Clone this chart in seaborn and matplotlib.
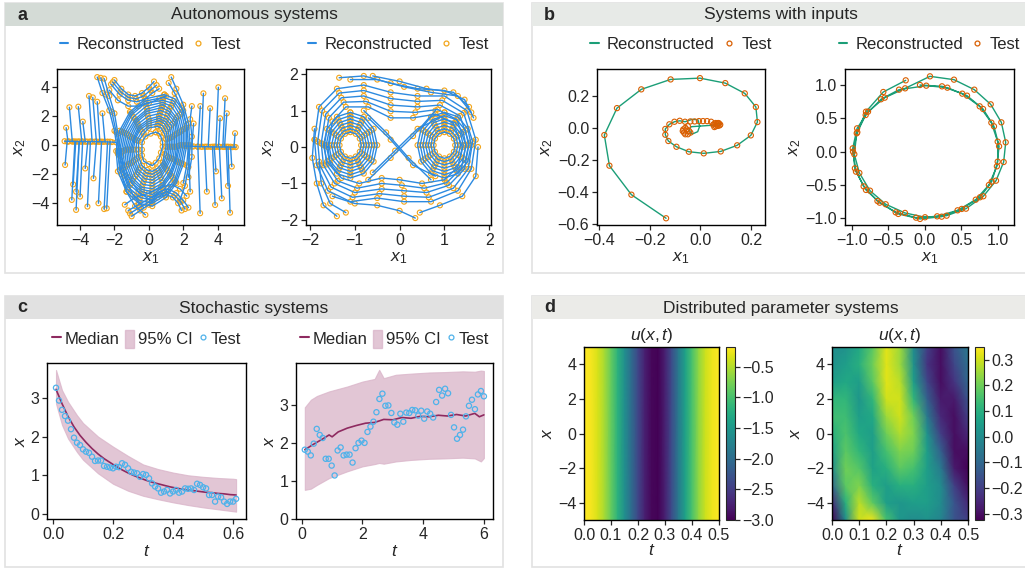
import numpy as np
import pandas as pd
import matplotlib
matplotlib.use("Agg")
import matplotlib.pyplot as plt
from matplotlib.lines import Line2D
from matplotlib.patches import Rectangle, Patch
import seaborn as sns

sns.set_style("ticks")
plt.rcParams["font.family"] = ["Liberation Sans", "DejaVu Sans"]
plt.rcParams["mathtext.fontset"] = "custom"
plt.rcParams["mathtext.it"] = "Liberation Sans:italic"
plt.rcParams["mathtext.rm"] = "Liberation Sans"
plt.rcParams["xtick.labelsize"] = 11.5
plt.rcParams["ytick.labelsize"] = 11.5
plt.rcParams["axes.labelsize"] = 12.5
plt.rcParams["axes.linewidth"] = 1.0

# ---------------- panel a (left): fast-slow system ----------------
# closed orbits around the centre, outermost first
a1_loops = [
    [(0.9, 3.5), (1.5, 3.2), (2.0, 2.4), (2.2, 1.2), (2.2, 0.0), (2.0, -1.3), (1.6, -2.6), (1.0, -3.6), (0.2, -4.2), (-0.6, -4.0), (-1.3, -3.2), (-1.8, -1.8), (-1.9, -0.4), (-1.7, 1.0), (-1.1, 2.3), (-0.2, 3.2)],
    [(0.85, 3.3), (1.45, 3.05), (1.9, 2.25), (2.1, 1.15), (2.1, 0.0), (1.9, -1.25), (1.55, -2.5), (0.95, -3.45), (0.2, -4.0), (-0.55, -3.8), (-1.25, -3.05), (-1.7, -1.7), (-1.8, -0.4), (-1.6, 0.95), (-1.05, 2.2), (-0.2, 3.05)],
    [(0.8, 3.1), (1.4, 2.9), (1.8, 2.1), (2.0, 1.1), (2.0, 0.0), (1.8, -1.2), (1.5, -2.4), (0.9, -3.3), (0.2, -3.8), (-0.5, -3.6), (-1.2, -2.9), (-1.6, -1.6), (-1.7, -0.4), (-1.5, 0.9), (-1.0, 2.1), (-0.2, 2.9)],
    [(0.8, 2.95), (1.3, 2.7), (1.7, 2.0), (1.9, 1.0), (1.9, 0.0), (1.7, -1.15), (1.4, -2.25), (0.85, -3.1), (0.2, -3.6), (-0.45, -3.4), (-1.1, -2.75), (-1.5, -1.55), (-1.6, -0.4), (-1.4, 0.85), (-0.9, 1.95), (-0.15, 2.7)],
    [(0.8, 2.8), (1.2, 2.5), (1.6, 1.9), (1.8, 0.9), (1.8, 0.0), (1.6, -1.1), (1.3, -2.1), (0.8, -2.9), (0.2, -3.4), (-0.4, -3.2), (-1.0, -2.6), (-1.4, -1.5), (-1.5, -0.4), (-1.3, 0.8), (-0.8, 1.8), (-0.1, 2.5)],
    [(0.75, 2.6), (1.15, 2.35), (1.55, 1.75), (1.7, 0.85), (1.7, -0.05), (1.55, -1.05), (1.25, -2.0), (0.8, -2.75), (0.2, -3.2), (-0.4, -3.05), (-0.95, -2.45), (-1.3, -1.4), (-1.4, -0.35), (-1.2, 0.7), (-0.75, 1.7), (-0.1, 2.35)],
    [(0.7, 2.4), (1.1, 2.2), (1.5, 1.6), (1.6, 0.8), (1.6, -0.1), (1.5, -1.0), (1.2, -1.9), (0.8, -2.6), (0.2, -3.0), (-0.4, -2.9), (-0.9, -2.3), (-1.2, -1.3), (-1.3, -0.3), (-1.1, 0.6), (-0.7, 1.6), (-0.1, 2.2)],
    [(0.65, 2.2), (1.05, 2.0), (1.4, 1.5), (1.5, 0.7), (1.5, -0.1), (1.4, -0.95), (1.1, -1.75), (0.75, -2.4), (0.2, -2.8), (-0.35, -2.7), (-0.8, -2.15), (-1.1, -1.25), (-1.2, -0.3), (-1.0, 0.55), (-0.65, 1.45), (-0.05, 2.0)],
    [(0.6, 2.0), (1.0, 1.8), (1.3, 1.4), (1.4, 0.6), (1.4, -0.1), (1.3, -0.9), (1.0, -1.6), (0.7, -2.2), (0.2, -2.6), (-0.3, -2.5), (-0.7, -2.0), (-1.0, -1.2), (-1.1, -0.3), (-0.9, 0.5), (-0.6, 1.3), (0.0, 1.8)],
    [(0.6, 1.85), (0.95, 1.65), (1.2, 1.25), (1.3, 0.55), (1.3, -0.1), (1.2, -0.85), (0.95, -1.5), (0.65, -2.05), (0.2, -2.4), (-0.25, -2.3), (-0.65, -1.85), (-0.9, -1.1), (-1.0, -0.3), (-0.85, 0.45), (-0.55, 1.2), (0.0, 1.65)],
    [(0.6, 1.7), (0.9, 1.5), (1.1, 1.1), (1.2, 0.5), (1.2, -0.1), (1.1, -0.8), (0.9, -1.4), (0.6, -1.9), (0.2, -2.2), (-0.2, -2.1), (-0.6, -1.7), (-0.8, -1.0), (-0.9, -0.3), (-0.8, 0.4), (-0.5, 1.1), (0.0, 1.5)],
    [(0.55, 1.5), (0.8, 1.35), (1.0, 0.95), (1.1, 0.45), (1.1, -0.1), (1.0, -0.7), (0.85, -1.3), (0.55, -1.75), (0.2, -2.0), (-0.15, -1.9), (-0.5, -1.55), (-0.7, -0.9), (-0.75, -0.3), (-0.7, 0.35), (-0.4, 0.95), (0.0, 1.35)],
    [(0.5, 1.3), (0.7, 1.2), (0.9, 0.8), (1.0, 0.4), (1.0, -0.1), (0.9, -0.6), (0.8, -1.2), (0.5, -1.6), (0.2, -1.8), (-0.1, -1.7), (-0.4, -1.4), (-0.6, -0.8), (-0.6, -0.3), (-0.6, 0.3), (-0.3, 0.8), (0.0, 1.2)],
    [(0.4, 0.9), (0.6, 0.8), (0.7, 0.6), (0.8, 0.2), (0.8, -0.1), (0.7, -0.5), (0.6, -0.9), (0.4, -1.2), (0.2, -1.4), (0.0, -1.3), (-0.3, -1.1), (-0.4, -0.7), (-0.4, -0.3), (-0.4, 0.2), (-0.2, 0.6), (0.1, 0.8)],
]
# open trajectories: U-shaped top bands, bottom humps and the long S-shaped arms
a1_bands = [
    [(-2.0, 4.5), (-1.6, 3.9), (-1.2, 3.5), (-0.8, 3.4), (-0.4, 3.6), (0.0, 4.0), (0.3, 4.4)],
    [(-2.1, 4.35), (-1.65, 3.7), (-1.2, 3.3), (-0.75, 3.2), (-0.3, 3.4), (0.1, 3.8), (0.45, 4.15)],
    [(-2.2, 4.2), (-1.7, 3.5), (-1.2, 3.1), (-0.7, 3.0), (-0.2, 3.2), (0.2, 3.6), (0.6, 3.9)],
    [(-2.3, 3.8), (-1.8, 3.1), (-1.2, 2.7), (-0.6, 2.7), (0.0, 2.9), (0.6, 3.2), (1.0, 3.4)],
    [(-1.0, -4.9), (-0.5, -4.5), (0.0, -4.1), (0.5, -3.6), (1.0, -3.4), (1.4, -3.6), (1.7, -4.0), (1.9, -4.5)],
    [(-1.1, -4.7), (-0.55, -4.3), (0.0, -3.9), (0.55, -3.4), (1.05, -3.2), (1.5, -3.45), (1.85, -3.9), (2.1, -4.4)],
    [(-1.2, -4.5), (-0.6, -4.1), (0.0, -3.7), (0.6, -3.2), (1.1, -3.0), (1.6, -3.3), (2.0, -3.8), (2.3, -4.3)],
    [(-1.4, -4.1), (-0.8, -3.6), (0.0, -3.3), (0.7, -2.9), (1.3, -2.7), (1.8, -3.0), (2.2, -3.5)],
    [(-3.0, 4.7), (-2.7, 3.6), (-2.3, 2.4), (-2.0, 1.0), (-1.8, -0.6), (-1.6, -2.0), (-1.3, -3.2), (-0.8, -4.2), (-0.2, -4.8)],
    [(-2.8, 4.65), (-2.5, 3.5), (-2.15, 2.3), (-1.9, 0.9), (-1.7, -0.7), (-1.4, -2.1), (-0.95, -3.4), (-0.3, -4.3)],
    [(-2.6, 4.6), (-2.3, 3.4), (-2.0, 2.2), (-1.8, 0.8), (-1.6, -0.8), (-1.2, -2.2), (-0.6, -3.2), (0.2, -3.9)],
    [(1.3, 4.7), (1.6, 3.9), (2.0, 2.8), (2.3, 1.5), (2.4, 0.0), (2.3, -1.5), (2.1, -2.8), (1.8, -3.8)],
    [(1.15, 4.3), (1.5, 3.6), (1.9, 2.6), (2.2, 1.4), (2.3, 0.0), (2.2, -1.4), (2.0, -2.6)],
    [(2.5, 2.7), (2.4, 1.8), (2.5, 0.6), (2.5, -0.8), (2.3, -2.2)],
]
a1_drop_x0 = [-4.62, -4.10, -3.48, -3.26, -3.84, -4.81, -4.23, -4.48, -4.23, -3.57, -2.93, -2.45, -4.00, -4.87, -3.22, -2.60, -3.00, -2.70, -4.40, -3.70,
              3.17, 4.04, 4.43, 4.14, 5.01, 2.98, 3.85, 4.72, 3.37, 4.24, 4.82, 2.40, 2.99, 3.56, 4.53, 2.60, 3.90, 4.60]
a1_drop_y0 = [2.62, 2.66, 3.40, 3.30, 1.63, 1.21, -3.20, -3.77, -4.46, -4.23, -4.00, -4.35, -3.54, -1.36, -2.28, -4.40, 3.00, 2.20, -2.70, -1.60,
              3.58, 4.00, 3.24, 1.86, 0.83, -4.69, -4.12, -4.65, -3.20, -3.66, -1.47, -3.20, 2.70, 2.55, 2.20, 1.50, -1.80, -2.80]
a1_drop_x1 = [-4.45, -3.90, -3.30, -3.05, -3.70, -4.70, -4.05, -4.30, -4.05, -3.40, -2.75, -2.25, -3.85, -4.75, -3.05, -2.40, -2.85, -2.55, -4.25, -3.55,
              3.05, 3.90, 4.30, 4.05, 4.95, 2.85, 3.70, 4.60, 3.25, 4.10, 4.75, 2.30, 2.85, 3.45, 4.40, 2.50, 3.80, 4.50]
a1_drop_y1 = [0.25] * 20 + [-0.1] * 18
a1_slow_x = [-4.9, -4.65, -4.4, -4.15, -3.9, -3.65, -3.4, -3.15, -2.9, -2.65, -2.4, -2.15, -1.9]
a1_slow_y = [0.28, 0.27, 0.27, 0.26, 0.26, 0.25, 0.25, 0.25, 0.24, 0.24, 0.23, 0.22, 0.2]
a1_slow2_x = [2.1, 2.35, 2.6, 2.85, 3.1, 3.35, 3.6, 3.85, 4.1, 4.35, 4.6, 4.85, 5.05]
a1_slow2_y = [-0.05, -0.07, -0.08, -0.09, -0.1, -0.1, -0.11, -0.11, -0.12, -0.12, -0.12, -0.13, -0.13]

# ---------------- panel a (right): double-well oscillator ----------------
a2_outer = [
    [(-1.9, 0.2), (-1.8, 1.1), (-1.4, 1.6), (-0.8, 1.7), (-0.2, 1.5), (0.4, 1.4), (1.0, 1.4), (1.5, 1.0), (1.7, 0.2), (1.6, -0.6), (1.3, -1.2),
     (0.7, -1.5), (0.1, -1.5), (-0.5, -1.4), (-1.1, -1.5), (-1.6, -1.2), (-1.85, -0.5)],
    [(-1.83, 0.15), (-1.73, 1.0), (-1.35, 1.48), (-0.8, 1.55), (-0.2, 1.33), (0.4, 1.25), (0.95, 1.28), (1.43, 0.93), (1.63, 0.15), (1.53, -0.6),
     (1.2, -1.13), (0.65, -1.38), (0.1, -1.35), (-0.45, -1.28), (-1.05, -1.38), (-1.53, -1.1), (-1.78, -0.5)],
    [(-1.75, 0.1), (-1.65, 0.9), (-1.3, 1.35), (-0.8, 1.4), (-0.2, 1.15), (0.4, 1.1), (0.9, 1.15), (1.35, 0.85), (1.55, 0.1), (1.45, -0.6),
     (1.1, -1.05), (0.6, -1.25), (0.1, -1.2), (-0.4, -1.15), (-1.0, -1.25), (-1.45, -1.0), (-1.7, -0.5)],
    [(-1.68, 0.05), (-1.58, 0.8), (-1.25, 1.23), (-0.75, 1.25), (-0.2, 0.98), (0.35, 0.95), (0.85, 1.03), (1.28, 0.75), (1.48, 0.05), (1.38, -0.58),
     (1.05, -0.98), (0.55, -1.13), (0.05, -1.05), (-0.4, -1.0), (-0.95, -1.13), (-1.38, -0.93), (-1.63, -0.48)],
    [(-1.6, 0.0), (-1.5, 0.7), (-1.2, 1.1), (-0.7, 1.1), (-0.2, 0.8), (0.3, 0.8), (0.8, 0.9), (1.2, 0.65), (1.4, 0.0), (1.3, -0.55),
     (1.0, -0.9), (0.5, -1.0), (0.0, -0.9), (-0.4, -0.85), (-0.9, -1.0), (-1.3, -0.85), (-1.55, -0.45)],
]
a2_wells = [
    [(-1.1, 0.95), (-0.8, 0.83), (-0.58, 0.5), (-0.5, 0.05), (-0.58, -0.4), (-0.8, -0.73), (-1.1, -0.85), (-1.4, -0.73), (-1.62, -0.4), (-1.7, 0.05), (-1.62, 0.5), (-1.4, 0.83)],
    [(-1.1, 0.86), (-0.83, 0.75), (-0.63, 0.46), (-0.56, 0.05), (-0.63, -0.36), (-0.83, -0.65), (-1.1, -0.76), (-1.37, -0.65), (-1.57, -0.36), (-1.64, 0.05), (-1.57, 0.46), (-1.37, 0.75)],
    [(-1.1, 0.77), (-0.86, 0.67), (-0.68, 0.41), (-0.62, 0.05), (-0.68, -0.31), (-0.86, -0.57), (-1.1, -0.67), (-1.34, -0.57), (-1.52, -0.31), (-1.58, 0.05), (-1.52, 0.41), (-1.34, 0.67)],
    [(-1.1, 0.68), (-0.89, 0.6), (-0.74, 0.37), (-0.68, 0.05), (-0.74, -0.27), (-0.89, -0.5), (-1.1, -0.58), (-1.31, -0.5), (-1.46, -0.27), (-1.52, 0.05), (-1.46, 0.37), (-1.31, 0.6)],
    [(-1.1, 0.59), (-0.92, 0.52), (-0.79, 0.32), (-0.74, 0.05), (-0.79, -0.22), (-0.92, -0.42), (-1.1, -0.49), (-1.28, -0.42), (-1.41, -0.22), (-1.46, 0.05), (-1.41, 0.32), (-1.28, 0.52)],
    [(-1.1, 0.5), (-0.95, 0.44), (-0.84, 0.28), (-0.8, 0.05), (-0.84, -0.18), (-0.95, -0.34), (-1.1, -0.4), (-1.25, -0.34), (-1.36, -0.18), (-1.4, 0.05), (-1.36, 0.28), (-1.25, 0.44)],
    [(-1.1, 0.41), (-0.98, 0.36), (-0.89, 0.23), (-0.86, 0.05), (-0.89, -0.13), (-0.98, -0.26), (-1.1, -0.31), (-1.22, -0.26), (-1.31, -0.13), (-1.34, 0.05), (-1.31, 0.23), (-1.22, 0.36)],
    [(1.0, 0.95), (1.3, 0.83), (1.52, 0.5), (1.6, 0.05), (1.52, -0.4), (1.3, -0.73), (1.0, -0.85), (0.7, -0.73), (0.48, -0.4), (0.4, 0.05), (0.48, 0.5), (0.7, 0.83)],
    [(1.0, 0.86), (1.27, 0.75), (1.47, 0.46), (1.54, 0.05), (1.47, -0.36), (1.27, -0.65), (1.0, -0.76), (0.73, -0.65), (0.53, -0.36), (0.46, 0.05), (0.53, 0.46), (0.73, 0.75)],
    [(1.0, 0.77), (1.24, 0.67), (1.42, 0.41), (1.48, 0.05), (1.42, -0.31), (1.24, -0.57), (1.0, -0.67), (0.76, -0.57), (0.58, -0.31), (0.52, 0.05), (0.58, 0.41), (0.76, 0.67)],
    [(1.0, 0.68), (1.21, 0.6), (1.36, 0.37), (1.42, 0.05), (1.36, -0.27), (1.21, -0.5), (1.0, -0.58), (0.79, -0.5), (0.64, -0.27), (0.58, 0.05), (0.64, 0.37), (0.79, 0.6)],
    [(1.0, 0.59), (1.18, 0.52), (1.31, 0.32), (1.36, 0.05), (1.31, -0.22), (1.18, -0.42), (1.0, -0.49), (0.82, -0.42), (0.69, -0.22), (0.64, 0.05), (0.69, 0.32), (0.82, 0.52)],
    [(1.0, 0.5), (1.15, 0.44), (1.26, 0.28), (1.3, 0.05), (1.26, -0.18), (1.15, -0.34), (1.0, -0.4), (0.85, -0.34), (0.74, -0.18), (0.7, 0.05), (0.74, 0.28), (0.85, 0.44)],
    [(1.0, 0.41), (1.12, 0.36), (1.21, 0.23), (1.24, 0.05), (1.21, -0.13), (1.12, -0.26), (1.0, -0.31), (0.88, -0.26), (0.79, -0.13), (0.76, 0.05), (0.79, 0.23), (0.88, 0.36)],
]
a2_tails = [
    [(-1.35, 1.9), (-0.8, 1.95), (-0.2, 1.75), (0.4, 1.6), (1.0, 1.55), (1.45, 1.3), (1.65, 0.8)],
    [(-0.6, 1.95), (0.0, 1.8), (0.6, 1.6), (1.2, 1.5), (1.55, 1.1)],
    [(-1.1, 1.85), (-0.5, 1.85), (0.1, 1.65), (0.7, 1.5), (1.3, 1.4), (1.6, 0.95)],
    [(-1.4, -1.9), (-1.7, -1.6), (-1.85, -1.0), (-1.95, -0.3), (-1.9, 0.5)],
    [(-1.2, -1.8), (-1.55, -1.55), (-1.75, -1.0), (-1.8, -0.4)],
    [(0.35, -1.95), (0.0, -1.75), (-0.5, -1.6), (-1.0, -1.55), (-1.5, -1.35)],
    [(0.45, -1.8), (0.9, -1.6), (1.4, -1.35), (1.7, -0.8), (1.75, 0.0)],
    [(-0.7, 0.8), (-0.2, 0.2), (0.3, -0.5), (0.8, -0.8)],
    [(-0.6, -0.7), (-0.1, -0.1), (0.4, 0.5), (0.9, 0.8)],
    [(-0.8, 1.0), (-0.3, 0.4), (0.2, -0.3), (0.7, -0.9)],
    [(-0.7, -0.9), (-0.2, -0.3), (0.3, 0.3), (0.8, 1.0)],
]

# ---------------- panel b (left): damped spiral ----------------
b1_line_x = [-0.136, -0.273, -0.360, -0.380, -0.330, -0.234, -0.118, -0.002, 0.098, 0.175, 0.219, 0.225, 0.199, 0.145, 0.080, 0.013,
             -0.046, -0.095, -0.127, -0.139, -0.139, -0.123, -0.103, -0.082, -0.061, -0.033, -0.010, -0.003, -0.011, -0.033, -0.046,
             -0.037, 0.053, 0.079]
b1_line_y = [-0.564, -0.417, -0.236, -0.045, 0.123, 0.240, 0.302, 0.310, 0.279, 0.215, 0.130, 0.036, -0.047, -0.109, -0.147, -0.159,
             -0.149, -0.118, -0.082, -0.043, -0.007, 0.022, 0.038, 0.044, 0.038, 0.053, 0.050, 0.011, -0.024, -0.039, -0.014,
             0.007, 0.017, 0.026]
b1_test_x = [-0.136, -0.273, -0.360, -0.380, -0.330, -0.234, -0.118, -0.002, 0.098, 0.175, 0.219, 0.225, 0.199, 0.145, 0.080, 0.013,
             -0.046, -0.095, -0.127, -0.139, -0.139, -0.123, -0.103, -0.082, -0.061, -0.040, -0.023, -0.006, 0.010, 0.026, 0.042,
             -0.070, -0.065, -0.060, -0.050, -0.055, -0.060, -0.045, -0.050, -0.040, -0.068,
             0.050, 0.055, 0.060, 0.065, 0.070, 0.075, 0.060, 0.070, 0.078, 0.055, 0.068, 0.073]
b1_test_y = [-0.564, -0.417, -0.236, -0.045, 0.123, 0.240, 0.302, 0.310, 0.279, 0.215, 0.130, 0.036, -0.047, -0.109, -0.147, -0.159,
             -0.149, -0.118, -0.082, -0.043, -0.007, 0.022, 0.038, 0.044, 0.038, 0.040, 0.040, 0.042, 0.042, 0.042, 0.038,
             -0.020, -0.030, -0.040, -0.040, -0.010, 0.000, -0.020, 0.010, -0.030, -0.010,
             0.020, 0.025, 0.030, 0.020, 0.025, 0.015, 0.010, 0.030, 0.020, 0.005, 0.012, 0.028]

# ---------------- panel b (right): forced oscillator loops ----------------
b2_x = [-0.066, 0.236, 0.515, 0.754, 0.914, 1.001, 1.001, 0.919, 0.758, 0.507, 0.232, -0.066, -0.364, -0.620, -0.808, -0.945, -0.986, -0.927, -0.812, -0.602, -0.354,
        0.02, 0.31, 0.58, 0.80, 0.95, 1.02, 0.99, 0.88, 0.70, 0.45, 0.17, -0.12, -0.40, -0.65, -0.84, -0.96, -0.99, -0.93, -0.78, -0.55, -0.27,
        0.071, 0.401, 0.680, 0.905, 1.051, 1.111, 1.083, 0.978, 0.804, 0.566, 0.300, 0.003, -0.272, -0.537, -0.753, -0.899, -0.968, -0.935, -0.808, -0.570, -0.262]
b2_y = [1.000, 0.980, 0.870, 0.680, 0.435, 0.150, -0.150, -0.450, -0.684, -0.859, -0.975, -1.009, -0.934, -0.765, -0.574, -0.300, 0.000, 0.291, 0.550, 0.786, 0.930,
        0.99, 0.96, 0.84, 0.64, 0.38, 0.08, -0.22, -0.50, -0.72, -0.88, -0.97, -0.99, -0.91, -0.74, -0.52, -0.25, 0.05, 0.35, 0.60, 0.81, 0.95,
        1.130, 1.080, 0.930, 0.710, 0.440, 0.140, -0.155, -0.435, -0.669, -0.855, -0.960, -0.984, -0.919, -0.789, -0.585, -0.319, -0.039, 0.276, 0.600, 0.895, 1.070]

# ---------------- panel c: stochastic systems ----------------
c1_t = np.round(np.arange(0.01, 0.615, 0.01), 2)
c1_test = [3.26, 2.93, 2.69, 2.53, 2.41, 2.19, 1.97, 1.84, 1.78, 1.67, 1.61, 1.58, 1.48, 1.37, 1.38, 1.38, 1.24, 1.22, 1.20, 1.18,
           1.22, 1.21, 1.31, 1.27, 1.18, 1.09, 1.07, 1.05, 0.96, 1.03, 1.01, 0.92, 0.79, 0.71, 0.66, 0.55, 0.58, 0.62, 0.53, 0.58,
           0.62, 0.55, 0.58, 0.66, 0.65, 0.66, 0.62, 0.78, 0.75, 0.69, 0.66, 0.49, 0.49, 0.32, 0.45, 0.43, 0.32, 0.26, 0.32, 0.32, 0.39]
c1_med_t = [0.01, 0.03, 0.05, 0.07, 0.09, 0.11, 0.13, 0.15, 0.17, 0.19, 0.21, 0.23, 0.25, 0.27, 0.29, 0.31,
            0.33, 0.35, 0.37, 0.39, 0.41, 0.43, 0.45, 0.47, 0.49, 0.51, 0.53, 0.55, 0.57, 0.59, 0.61]
c1_med = [3.22, 2.85, 2.52, 2.25, 2.03, 1.85, 1.69, 1.55, 1.43, 1.33, 1.23, 1.14, 1.06, 0.99, 0.93, 0.87,
          0.82, 0.78, 0.74, 0.70, 0.67, 0.64, 0.62, 0.60, 0.58, 0.56, 0.55, 0.53, 0.52, 0.50, 0.49]
c1_band_t = [0.01, 0.03, 0.05, 0.08, 0.10, 0.15, 0.20, 0.25, 0.30, 0.35, 0.40, 0.45, 0.50, 0.55, 0.60, 0.61]
c1_lo = [2.85, 2.30, 1.95, 1.60, 1.40, 1.05, 0.78, 0.60, 0.47, 0.38, 0.30, 0.23, 0.17, 0.12, 0.07, 0.06]
c1_hi = [3.72, 3.20, 2.90, 2.55, 2.35, 2.00, 1.74, 1.50, 1.28, 1.16, 1.07, 1.00, 0.96, 0.93, 0.91, 0.90]

c2_t = np.round(np.linspace(0.1, 6.0, 61), 3)
c2_test = [1.83, 1.78, 1.68, 1.99, 2.38, 2.22, 2.14, 1.59, 1.59, 1.41, 1.15, 1.81, 1.89, 1.68, 1.70, 1.70, 1.49, 1.87, 2.01, 2.07,
           2.01, 2.30, 2.44, 2.57, 2.82, 3.17, 3.31, 2.99, 3.00, 2.80, 2.55, 2.49, 2.78, 2.57, 2.81, 2.80, 2.88, 2.87, 2.73, 2.86,
           2.65, 2.84, 2.78, 2.68, 3.09, 3.41, 3.26, 3.44, 3.32, 2.75, 2.42, 2.12, 2.22, 2.36, 2.71, 2.99, 3.15, 2.90, 3.29, 3.38, 3.24]
c2_med_t = [0.1, 0.4, 0.7, 0.9, 1.0, 1.2, 1.5, 1.8, 2.1, 2.4, 2.7, 3.0, 3.3, 3.6, 3.9, 4.2, 4.5, 4.8, 5.1, 5.4, 5.7, 5.85, 6.0]
c2_med = [1.83, 1.98, 2.12, 2.22, 2.17, 2.30, 2.40, 2.47, 2.53, 2.55, 2.63, 2.62, 2.68, 2.66, 2.71, 2.70, 2.74, 2.72, 2.76, 2.72, 2.79, 2.70, 2.75]
c2_band_t = [0.1, 0.3, 0.5, 0.9, 1.5, 2.0, 2.4, 2.55, 2.7, 3.1, 3.6, 4.2, 4.7, 5.3, 5.7, 5.9, 6.0]
c2_lo = [0.77, 0.80, 0.90, 1.08, 1.26, 1.39, 1.45, 1.48, 1.46, 1.52, 1.56, 1.59, 1.60, 1.62, 1.60, 1.52, 1.61]
c2_hi = [2.95, 3.15, 3.25, 3.37, 3.50, 3.63, 3.70, 3.94, 3.72, 3.81, 3.84, 3.87, 3.88, 3.90, 3.89, 3.92, 3.91]

# ---------------- panel d: distributed parameter systems ----------------
d1_t = [0.0, 0.025, 0.05, 0.075, 0.1, 0.125, 0.15, 0.175, 0.2, 0.225, 0.25, 0.275, 0.3, 0.325, 0.35, 0.375, 0.4, 0.425, 0.45, 0.475, 0.5]
d1_u = [-0.18, -0.22, -0.35, -0.55, -0.85, -1.20, -1.60, -2.00, -2.40, -2.75, -2.95, -2.98, -2.75, -2.35, -1.85, -1.40, -1.00, -0.65, -0.40, -0.25, -0.18]
d1_x = [-5.0, 5.0]

d2_t = [0.0, 0.05, 0.1, 0.15, 0.2, 0.25, 0.3, 0.35, 0.4, 0.45, 0.5]
d2_x = [-5, -4, -3, -2, -1, 0, 1, 2, 3, 4, 5]
d2_u = [
    [-0.33, 0.00, 0.30, 0.33, 0.15, 0.03, 0.00, 0.02, -0.02, -0.15, -0.20],
    [-0.25, 0.10, 0.28, 0.18, 0.05, 0.03, 0.05, 0.05, 0.00, -0.15, -0.25],
    [-0.10, 0.18, 0.22, 0.10, 0.05, 0.10, 0.10, 0.05, 0.00, -0.20, -0.30],
    [0.00, 0.20, 0.17, 0.06, 0.10, 0.18, 0.15, 0.05, -0.05, -0.28, -0.32],
    [0.05, 0.18, 0.12, 0.05, 0.15, 0.22, 0.20, 0.05, -0.12, -0.30, -0.30],
    [0.10, 0.16, 0.08, 0.05, 0.20, 0.27, 0.22, 0.02, -0.20, -0.30, -0.25],
    [0.14, 0.14, 0.05, 0.08, 0.25, 0.30, 0.20, -0.05, -0.25, -0.30, -0.20],
    [0.12, 0.12, 0.03, 0.12, 0.30, 0.30, 0.12, -0.12, -0.28, -0.28, -0.15],
    [0.05, 0.08, 0.05, 0.18, 0.32, 0.28, 0.05, -0.18, -0.30, -0.22, -0.10],
    [0.02, 0.05, 0.10, 0.20, 0.32, 0.25, 0.02, -0.22, -0.30, -0.18, -0.08],
    [0.00, 0.02, 0.08, 0.18, 0.32, 0.25, 0.00, -0.20, -0.30, -0.15, -0.05],
]

# ---------------- colours ----------------
blue_a, orange_a = "#2c8ae0", "#f2a51a"
green_b, orange_b = "#1b9e77", "#d95f02"
med_c, band_c, pts_c = "#8e2a60", "#d9b3c8", "#4fb2ea"

W, H = 1025, 569
fig = plt.figure(figsize=(W / 100, H / 100), dpi=100)


def rect(l, t, r, b):
    return [l / W, 1 - b / H, (r - l) / W, (b - t) / H]


def panel(l, t, r, b, band, letter, title):
    fig.patches.append(Rectangle((l / W, 1 - b / H), (r - l) / W, (b - t) / H, transform=fig.transFigure,
                                 facecolor="white", edgecolor="#e2e2e2", lw=1.2, zorder=-2))
    fig.patches.append(Rectangle((l / W, 1 - (t + 23) / H), (r - l) / W, 23 / H, transform=fig.transFigure,
                                 facecolor=band, edgecolor="none", zorder=-1))
    fig.text((l + 12) / W, 1 - (t + 12) / H, letter, fontsize=13, fontweight="bold", va="center", ha="left")
    fig.text((l + r) / 2 / W, 1 - (t + 12) / H, title, fontsize=12.5, va="center", ha="center")


panel(5, 3, 503, 273, "#d4dbd6", "a", "Autonomous systems")
panel(532, 3, 1030, 273, "#e7eae7", "b", "Systems with inputs")
panel(5, 296, 503, 567, "#e1e1e1", "c", "Stochastic systems")
panel(532, 296, 1030, 567, "#ebebe8", "d", "Distributed parameter systems")


def curves_df(curves, closed=False):
    rows = []
    for i, c in enumerate(curves):
        pts = list(c) + ([c[0]] if closed else [])
        for x, y in pts:
            rows.append((i, x, y))
    return pd.DataFrame(rows, columns=["traj", "x1", "x2"])


def traj_legend(ax, lc, pc):
    h = [Line2D([], [], color=lc, lw=1.5),
         Line2D([], [], ls="", marker="o", ms=3.5, mfc="none", mec=pc, mew=0.9)]
    ax.legend(h, ["Reconstructed", "Test"], loc="center", bbox_to_anchor=(0.5, 1.155), ncol=2, frameon=False,
              fontsize=12, handlelength=0.5, handletextpad=0.5, columnspacing=0.6, borderaxespad=0, borderpad=0)


def finish(ax, xl, yl):
    ax.set_xlabel(xl, labelpad=2)
    ax.set_ylabel(yl, labelpad=2)
    for s in ax.spines.values():
        s.set_visible(True)
        s.set_color("black")
    ax.tick_params(length=3.5, width=0.9, pad=2)


def phase(ax, df):
    sns.scatterplot(data=df, x="x1", y="x2", ax=ax, marker="o", s=13, facecolor="none", edgecolor=orange_a,
                    linewidth=0.8, zorder=2)
    sns.lineplot(data=df, x="x1", y="x2", units="traj", estimator=None, sort=False, color=blue_a, lw=1.0,
                 ax=ax, zorder=3)


# ---- panel a left
ax = fig.add_axes(rect(57, 69, 244, 225))
drops = [[(x0, y0), (x1, y1)] for x0, y0, x1, y1 in zip(a1_drop_x0, a1_drop_y0, a1_drop_x1, a1_drop_y1)]
slow = [list(zip(a1_slow_x, a1_slow_y)), list(zip(a1_slow2_x, a1_slow2_y))]
df = pd.concat([curves_df(a1_loops, closed=True), curves_df(a1_bands + drops + slow).assign(traj=lambda d: d.traj + 100)])
phase(ax, df)
ax.set_xlim(-5.34, 5.53)
ax.set_ylim(-5.5, 5.26)
ax.set_xticks([-4, -2, 0, 2, 4])
ax.set_yticks([-4, -2, 0, 2, 4])
traj_legend(ax, blue_a, orange_a)
finish(ax, "$x_1$", "$x_2$")

# ---- panel a right
ax = fig.add_axes(rect(306, 69, 491, 225))
df = pd.concat([curves_df(a2_outer + a2_wells, closed=True), curves_df(a2_tails).assign(traj=lambda d: d.traj + 100)])
phase(ax, df)
ax.set_xlim(-2.09, 2.04)
ax.set_ylim(-2.14, 2.14)
ax.set_xticks([-2, -1, 0, 1, 2])
ax.set_yticks([-2, -1, 0, 1, 2])
traj_legend(ax, blue_a, orange_a)
finish(ax, "$x_1$", "$x_2$")

# ---- panel b left
ax = fig.add_axes(rect(597, 69, 765, 225))
sns.lineplot(x=b1_line_x, y=b1_line_y, sort=False, estimator=None, color=green_b, lw=1.0, ax=ax, zorder=2)
sns.scatterplot(x=b1_test_x, y=b1_test_y, ax=ax, marker="o", s=14, facecolor="none", edgecolor=orange_b, linewidth=0.8, zorder=3)
ax.set_xlim(-0.409, 0.255)
ax.set_ylim(-0.606, 0.367)
ax.set_xticks([-0.4, -0.2, 0.0, 0.2])
ax.set_yticks([-0.6, -0.4, -0.2, 0.0, 0.2])
traj_legend(ax, green_b, orange_b)
finish(ax, "$x_1$", "$x_2$")

# ---- panel b right
ax = fig.add_axes(rect(845, 69, 1014, 225))
sns.lineplot(x=b2_x, y=b2_y, sort=False, estimator=None, color=green_b, lw=1.0, ax=ax, zorder=2)
sns.scatterplot(x=b2_x, y=b2_y, ax=ax, marker="o", s=14, facecolor="none", edgecolor=orange_b, linewidth=0.8, zorder=3)
ax.set_xlim(-1.096, 1.225)
ax.set_ylim(-1.10, 1.24)
ax.set_xticks([-1.0, -0.5, 0.0, 0.5, 1.0])
ax.set_yticks([-1.0, -0.5, 0.0, 0.5, 1.0])
traj_legend(ax, green_b, orange_b)
finish(ax, "$x_1$", "$x_2$")


# ---- panel c
def stoch(ax, t, test, mt, med, bt, lo, hi):
    ax.fill_between(bt, lo, hi, color=band_c, alpha=0.75, lw=0.8, edgecolor=band_c, zorder=1)
    sns.lineplot(x=mt, y=med, color=med_c, lw=1.2, ax=ax, zorder=2)
    sns.scatterplot(x=t, y=test, ax=ax, marker="o", s=14, facecolor="none", edgecolor=pts_c, linewidth=0.9, zorder=3)
    h = [Line2D([], [], color=med_c, lw=1.5),
         Patch(facecolor=band_c, edgecolor=band_c, alpha=0.75),
         Line2D([], [], ls="", marker="o", ms=3.5, mfc="none", mec=pts_c, mew=0.9)]
    ax.legend(h, ["Median", "95% CI", "Test"], loc="center", bbox_to_anchor=(0.5, 1.155), ncol=3, frameon=False,
              fontsize=12, handlelength=0.55, handleheight=1.3, handletextpad=0.2, columnspacing=0.35,
              borderaxespad=0, borderpad=0)
    finish(ax, "$t$", "$x$")


ax = fig.add_axes(rect(47, 363, 246, 519))
stoch(ax, c1_t, c1_test, c1_med_t, c1_med, c1_band_t, c1_lo, c1_hi)
ax.set_xlim(-0.02, 0.643)
ax.set_ylim(-0.13, 3.9)
ax.set_xticks([0.0, 0.2, 0.4, 0.6])
ax.set_yticks([0, 1, 2, 3])

ax = fig.add_axes(rect(296, 363, 493, 519))
stoch(ax, c2_t, c2_test, c2_med_t, c2_med, c2_band_t, c2_lo, c2_hi)
ax.set_xlim(-0.19, 6.3)
ax.set_ylim(0, 4.12)
ax.set_xticks([0, 2, 4, 6])
ax.set_yticks([0, 1, 2, 3])


# ---- panel d
def field(ax, cax, t, x, u, vmin, vmax, cticks):
    m = ax.pcolormesh(t, x, u, shading="gouraud", cmap="viridis", vmin=vmin, vmax=vmax)
    ax.set_xlim(0, 0.5)
    ax.set_ylim(-5, 5)
    ax.set_xticks([0.0, 0.1, 0.2, 0.3, 0.4, 0.5])
    ax.set_xticklabels(["0.0", "0.1", "0.2", "0.3", "0.4", "0.5"])
    ax.set_yticks([-4, -2, 0, 2, 4])
    ax.set_title("$u(x, t)$", fontsize=12.5, pad=5)
    finish(ax, "$t$", "$x$")
    ax.xaxis.labelpad = 0
    cb = fig.colorbar(m, cax=cax)
    cb.set_ticks(cticks)
    cb.outline.set_linewidth(0.8)
    cax.tick_params(labelsize=11.5, length=3.5, width=0.9, pad=2)


ax = fig.add_axes(rect(584, 347, 719, 520))
cax = fig.add_axes(rect(726, 347, 735, 520))
field(ax, cax, d1_t, d1_x, np.tile(d1_u, (len(d1_x), 1)), -3.0, -0.18, [-3.0, -2.5, -2.0, -1.5, -1.0, -0.5])

ax = fig.add_axes(rect(832, 347, 968, 520))
cax = fig.add_axes(rect(975, 347, 984, 520))
field(ax, cax, d2_t, d2_x, np.array(d2_u), -0.325, 0.35, [-0.3, -0.2, -0.1, 0.0, 0.1, 0.2, 0.3])

fig.savefig("out.png", dpi=100)
